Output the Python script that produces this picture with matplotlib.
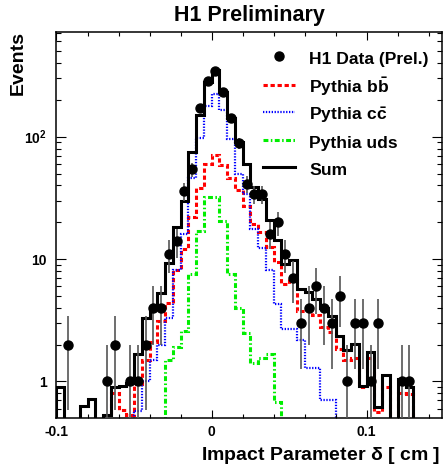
import numpy as np
import matplotlib
matplotlib.use("Agg")
import matplotlib.pyplot as plt
from matplotlib.lines import Line2D
from matplotlib.ticker import FixedLocator, MultipleLocator, LogLocator, NullFormatter

plt.rcParams['font.family'] = 'Liberation Sans'
plt.rcParams['font.weight'] = 'bold'
plt.rcParams['axes.unicode_minus'] = False
plt.rcParams['mathtext.fontset'] = 'custom'
plt.rcParams['mathtext.rm'] = 'Liberation Sans:bold'
plt.rcParams['mathtext.bf'] = 'Liberation Sans:bold'
plt.rcParams['mathtext.it'] = 'Liberation Sans'

# 50 bins of 0.005 cm from -0.1 to 0.15
edges = np.linspace(-0.1, 0.15, 51)

data = [0, 2, 0, 0, 0, 0, 1, 2, 0, 1,
        1, 2, 4, 4, 11, 14, 36, 54, 170, 284,
        343, 233, 142, 89, 41, 34, 34, 16, 20, 11,
        7, 3, 4, 6, 4, 3, 5, 1, 3, 3,
        1, 3, 0, 0, 1, 1, 0, 0, 0, 0]

mc_bb = [0, 0, 0, 0, 0, 0, 0, 0.8, 0.58, 0.53,
         0.95, 1.5, 2.1, 3.1, 4.4, 8.1, 12, 22, 38, 60,
         71, 59, 46, 36.5, 27, 19.5, 16.5, 12.5, 9.5, 6.2,
         7.0, 3.8, 3.8, 3.5, 2.8, 2.55, 1.85, 1.5, 1.55, 0.9,
         1.55, 0.56, 0.9, 0, 0.8, 0.79, 0, 0, 0, 0]

mc_cc = [0, 0, 0, 0, 0, 0, 0, 0, 0, 0,
         0.57, 1.0, 1.5, 2.0, 3.3, 8.2, 16, 46, 98, 177,
         225, 164, 95, 50, 34, 17.5, 12.3, 8.1, 4.3, 2.68,
         2.68, 2.2, 1.3, 1.3, 0.7, 0.7, 0, 0, 0, 0,
         0, 0, 0, 0, 0, 0, 0, 0, 0, 0]

mc_uds = [0, 0, 0, 0, 0, 0, 0, 0, 0, 0,
          0, 0, 0, 0, 1.5, 1.9, 2.6, 7.6, 17, 32,
          32, 20.5, 7.6, 4.0, 2.47, 1.42, 1.55, 1.68, 0.68, 0,
          0, 0, 0, 0, 0, 0, 0, 0, 0, 0,
          0, 0, 0, 0, 0, 0, 0, 0, 0, 0]

mc_sum = [0.9, 0, 0, 0.635, 0.716, 0, 0.53, 0.9, 0.92, 0.97,
          1.67, 3.3, 4.0, 5.3, 9.3, 18.3, 30, 75, 150, 278,
          350, 231, 143, 90, 60, 39, 31, 21, 14.3, 9.2,
          9.9, 5.7, 5.4, 4.7, 4.0, 3.4, 2.35, 1.8, 2.02, 0.92,
          1.73, 0.62, 1.12, 0, 1.04, 0.9, 0, 0, 0, 0]


def floor(v):
    # empty bins are drawn below the frame on the log axis
    v = np.asarray(v, dtype=float)
    return np.where(v > 0, v, 0.1)


red_ls = (0, (1.4, 0.9))
blue_ls = (0, (0.6, 0.7))
green_ls = (0, (1.6, 0.8, 0.5, 0.8))

fig = plt.figure(figsize=(4.43, 4.70), dpi=100)
ax = fig.add_axes([0.1275, 0.1113, 0.8702, 0.8213])

ax.stairs(floor(mc_bb), edges, color='#ff0000', lw=2.2, linestyle=red_ls)
ax.stairs(floor(mc_cc), edges, color='#0000ff', lw=1.6, linestyle=blue_ls)
ax.stairs(floor(mc_uds), edges, color='#00ee00', lw=2.2, linestyle=green_ls)
ax.stairs(floor(mc_sum), edges, color='black', lw=2.2)

centers = 0.5 * (edges[:-1] + edges[1:])
counts = np.array(data, dtype=float)
sel = counts > 0
err = np.sqrt(counts[sel])
ax.errorbar(centers[sel], counts[sel], yerr=[err, err], fmt='o', color='black',
            ecolor='#555555', elinewidth=1.2, markersize=6.5, capsize=0, zorder=5)

ax.set_yscale('log')
ax.set_xlim(-0.1, 0.1485)
ax.set_ylim(0.506, 721)

ax.xaxis.set_major_locator(FixedLocator([-0.1, 0, 0.1]))
ax.xaxis.set_minor_locator(MultipleLocator(0.02))
ax.set_xticklabels(['-0.1', '0', '0.1'])
ax.yaxis.set_major_locator(FixedLocator([1, 10, 100]))
ax.set_yticklabels(['1', '10', '$10^{2}$'])
ax.yaxis.set_minor_locator(LogLocator(base=10, subs=np.arange(2, 10)))
ax.yaxis.set_minor_formatter(NullFormatter())

ax.tick_params(which='both', direction='in', top=True, right=True, width=0.8)
ax.tick_params(axis='x', which='major', length=6, pad=5, labelsize=10)
ax.tick_params(axis='x', which='minor', length=3)
ax.tick_params(axis='y', which='major', length=7, pad=7, labelsize=10)
ax.tick_params(axis='y', which='minor', length=3.5)
for s in ax.spines.values():
    s.set_linewidth(1.1)

fig.text(249 / 443, 1 - 15 / 470, 'H1 Preliminary', ha='center', va='center', fontsize=15.5)
fig.text(18 / 443, 1 - 31 / 470, 'Events', rotation=90, ha='center', va='top', fontsize=14)
fig.text(440 / 443, 1 - 455 / 470, r'Impact Parameter $\delta$ [ cm ]', ha='right', va='center',
         fontsize=14)

handles = [
    Line2D([], [], marker='o', color='black', linestyle='none', markersize=6.5),
    Line2D([], [], color='#ff0000', lw=2.2, linestyle=red_ls),
    Line2D([], [], color='#0000ff', lw=1.6, linestyle=blue_ls),
    Line2D([], [], color='#00ee00', lw=2.2, linestyle=green_ls),
    Line2D([], [], color='black', lw=2.2),
]
labels = ['H1 Data (Prel.)', r'Pythia b$\bar{\mathrm{b}}$', r'Pythia c$\bar{\mathrm{c}}$',
          'Pythia uds', 'Sum']
ax.legend(handles, labels, loc='upper left', bbox_to_anchor=(263 / 443, 1 - 48 / 470),
          bbox_transform=fig.transFigure, frameon=False, fontsize=12.6,
          handlelength=1.8, handleheight=1.45, handletextpad=0.85, labelspacing=0.36,
          borderpad=0, borderaxespad=0)

fig.savefig('out.png', dpi=100)
